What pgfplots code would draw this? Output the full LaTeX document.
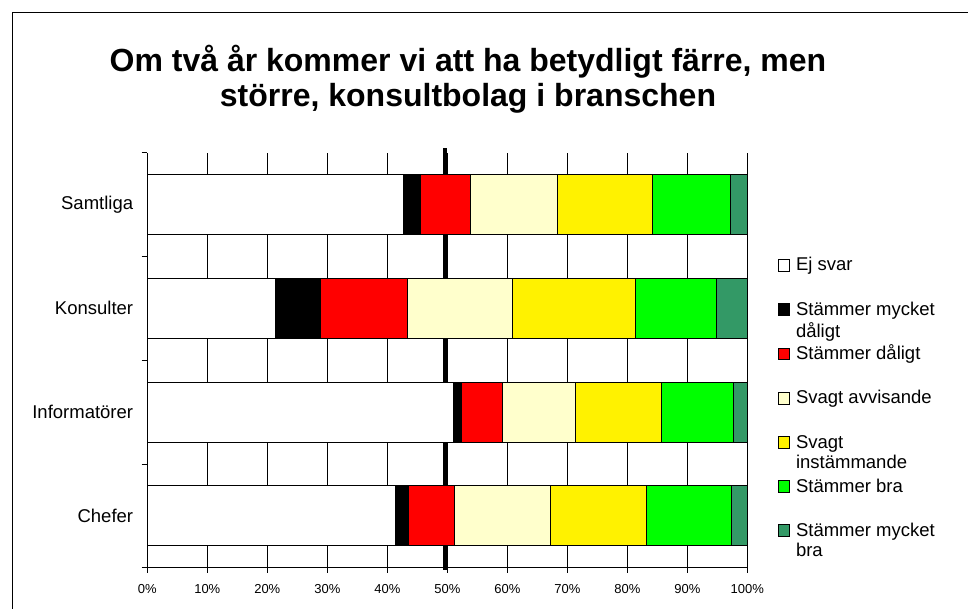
\documentclass[border=0pt]{standalone}
\usepackage{pgfplots}
\pgfplotsset{compat=1.18}
\usepackage{fontspec}
\setmainfont{Liberation Sans}
\definecolor{lyel}{HTML}{FFFFCC}
\definecolor{sgreen}{HTML}{339966}
\definecolor{bgreen}{HTML}{00FF00}
\newcommand{\legtext}[2]{\parbox[t]{150pt}{\strut #1\\\strut #2}}
\begin{document}
\begin{tikzpicture}[x=1pt,y=1pt]
\useasboundingbox (0,0) rectangle (968,609);
\draw[line width=1pt] (12.7,0) -- (12.7,596.3) -- (968,596.3);
\node[anchor=base, inner sep=0pt, font=\fontsize{32}{38}\selectfont\bfseries] at (468,537) {Om två år kommer vi att ha betydligt färre, men};
\node[anchor=base, inner sep=0pt, font=\fontsize{32}{38}\selectfont\bfseries] at (468,502) {större, konsultbolag i branschen};
\begin{axis}[
  at={(147.3pt,41.3pt)}, anchor=south west,
  scale only axis, width=600pt, height=415pt,
  xbar stacked, bar width=60pt,
  xmin=0, xmax=100, ymin=-0.5, ymax=3.5,
  clip=false,
  axis lines*=left, axis line style={-, black, line width=0.8pt},
  xtick={0,10,...,100},
  xticklabels={0\%,10\%,20\%,30\%,40\%,50\%,60\%,70\%,80\%,90\%,100\%},
  xticklabel style={font=\fontsize{13}{15}\selectfont, inner sep=0pt, yshift=-12pt},
  ytick={0,1,2,3},
  yticklabels={Chefer,Informatörer,Konsulter,Samtliga},
  yticklabel style={font=\fontsize{18.5}{20}\selectfont, inner sep=0pt, xshift=-9pt},
  minor ytick={-0.5,0.5,1.5,2.5,3.5},
  major y tick style={draw=none},
  tick align=outside, major tick length=5pt, minor tick length=5.6pt,
  tick style={black, line width=0.8pt},
  xmajorgrids=true, ymajorgrids=false,
  grid style={black, line width=0.8pt},
  every axis plot/.append style={draw=black, line width=0.8pt},
  legend image code/.code={\draw[#1, draw=black, line width=0.8pt] (0pt,0pt) rectangle (11.5pt,11.5pt);},
  legend style={draw=none, fill=none, inner sep=0pt, outer sep=0pt,
    at={(1.0507,0.7497)}, anchor=north west,
    row sep=28.3pt, column sep=6pt,
    nodes={inner sep=0pt, anchor=base west},
    font=\fontsize{18.5}{20.5}\selectfont},
]
\addplot[fill=white] coordinates {(41.4,0) (51.0,1) (21.3,2) (42.6,3)};
\addlegendentry{\legtext{Ej svar}{}}
\addplot[fill=black] coordinates {(2.1,0) (1.4,1) (7.6,2) (2.9,3)};
\addlegendentry{\legtext{Stämmer mycket}{dåligt}}
\addplot[fill=red] coordinates {(7.6,0) (6.8,1) (14.4,2) (8.4,3)};
\addlegendentry{\legtext{Stämmer dåligt}{}}
\addplot[fill=lyel] coordinates {(16.0,0) (12.2,1) (17.6,2) (14.5,3)};
\addlegendentry{\legtext{Svagt avvisande}{}}
\addplot[fill=yellow] coordinates {(16.0,0) (14.2,1) (20.5,2) (15.8,3)};
\addlegendentry{\legtext{Svagt}{instämmande}}
\addplot[fill=bgreen] coordinates {(14.3,0) (12.0,1) (13.4,2) (12.9,3)};
\addlegendentry{\legtext{Stämmer bra}{}}
\addplot[fill=sgreen] coordinates {(2.6,0) (2.4,1) (5.2,2) (2.9,3)};
\addlegendentry{\legtext{Stämmer mycket}{bra}}
\draw[line width=3.5pt, black] (axis cs:49.6,-0.522) -- (axis cs:49.6,3.545);
\end{axis}
\end{tikzpicture}
\end{document}
